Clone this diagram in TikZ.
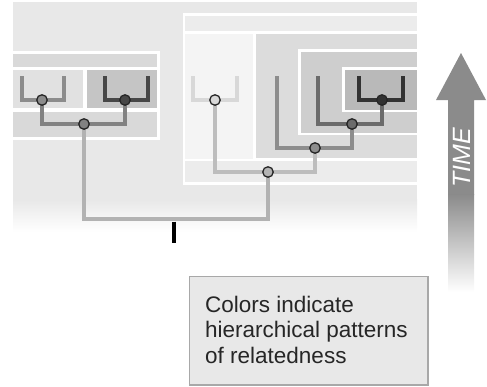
\documentclass[tikz,border=0pt]{standalone}
\usepackage{fontspec}
\newfontfamily\lsans{Liberation Sans}
\definecolor{bg}{HTML}{E8E8E8}
\definecolor{lstrip}{HTML}{D9D9D9}
\definecolor{lboxA}{HTML}{E1E1E1}
\definecolor{lboxB}{HTML}{C5C5C5}
\definecolor{rstrip}{HTML}{ECECEC}
\definecolor{rlight}{HTML}{F4F4F4}
\definecolor{rmid}{HTML}{DCDCDC}
\definecolor{rinner}{HTML}{CECECE}
\definecolor{rinmost}{HTML}{B9B9B9}
\definecolor{cL1}{HTML}{8C8C8C}
\definecolor{cL2}{HTML}{474747}
\definecolor{cL0}{HTML}{828282}
\definecolor{croot}{HTML}{B2B2B2}
\definecolor{cA}{HTML}{D8D8D8}
\definecolor{cAB}{HTML}{BDBDBD}
\definecolor{cC}{HTML}{8D8D8D}
\definecolor{cD}{HTML}{6B6B6B}
\definecolor{cE}{HTML}{323232}
\definecolor{arrowgray}{HTML}{8B8B8B}
\definecolor{legendborder}{HTML}{A8A8A8}
\begin{document}
\begin{tikzpicture}[x=1pt,y=-1pt,
  br/.style={line width=4.8pt,line join=miter,line cap=butt},
  dot/.style={circle,draw=black!85,line width=1.3pt,minimum size=10.5pt,inner sep=0pt},
]
\useasboundingbox (0,0) rectangle (487,386);
% background with bottom fade
\fill[bg] (13,2) rectangle (417,200);
\shade[top color=bg,bottom color=white] (13,199.5) rectangle (417,232);

% left group panels
\fill[white] (13,51) rectangle (160,140);
\fill[lstrip] (13,54) rectangle (157,67);
\fill[lboxA] (13,70) rectangle (83,108);
\fill[lboxB] (87,70) rectangle (157,108);
\fill[lstrip] (13,111.5) rectangle (157,137);

% right group panels
\fill[white] (183,13) rectangle (417,184.5);
\fill[rstrip] (185,16) rectangle (417,31);
\fill[rlight] (185,33.5) rectangle (252.5,159);
\fill[rmid] (256,33.5) rectangle (417,158);
\fill[rstrip] (185,161) rectangle (417,182);
\fill[white] (298,49) rectangle (417,135);
\fill[rinner] (300.5,51.5) rectangle (417,132.5);
\fill[white] (342,67) rectangle (417,112);
\fill[rinmost] (345,69.5) rectangle (417,109.5);

% tree coordinates
\coordinate (l1a) at (22,76);  \coordinate (l1b) at (64,76);  \coordinate (L1) at (42,100);
\coordinate (l2a) at (105,76); \coordinate (l2b) at (148,76); \coordinate (L2) at (125,100);
\coordinate (L0) at (84,124);
\coordinate (a1) at (193,76); \coordinate (a2) at (237,76); \coordinate (A) at (215,100);
\coordinate (B) at (268,172);
\coordinate (C) at (315,148); \coordinate (c1) at (277,76);
\coordinate (D) at (352,124); \coordinate (d1) at (318,76);
\coordinate (E) at (382,100); \coordinate (e1) at (359,76); \coordinate (e2) at (403,76);
\coordinate (root) at (174,219);
\coordinate (rootend) at (174,243);

% branches
\draw[br,croot] (L0) |- (root) -| (B);
\draw[br,black] (root) ++(0,2.5) -- (rootend);
\draw[br,cL1] (l1a) |- (L1) -| (l1b);
\draw[br,cL2] (l2a) |- (L2) -| (l2b);
\draw[br,cL0] (L1) |- (L0) -| (L2);
\draw[br,cA] (a1) |- (A) -| (a2);
\draw[br,cAB] (A) |- (B) -| (C);
\draw[br,cC] (c1) |- (C) -| (D);
\draw[br,cD] (d1) |- (D) -| (E);
\draw[br,cE] (e1) |- (E) -| (e2);

% nodes
\node[dot,fill=cL1] (nL1) at (L1) {};
\node[dot,fill=cL2] (nL2) at (L2) {};
\node[dot,fill=cL0] (nL0) at (L0) {};
\node[dot,fill=cA] (nA) at (A) {};
\node[dot,fill=cAB!95!black] (nB) at (B) {};
\node[dot,fill=cC] (nC) at (C) {};
\node[dot,fill=cD] (nD) at (D) {};
\node[dot,fill=cE] (nE) at (E) {};

% TIME arrow
\coordinate (tip) at (461,53);
\fill[arrowgray] (tip) -- (486,100) -- (474,100) -- (474,195) -- (448,195) -- (448,100) -- (436,100) -- cycle;
\shade[top color=arrowgray,bottom color=white] (448,194.5) rectangle (474,292);
\node[rotate=90,text=white,font=\lsans\itshape\fontsize{25}{25}\selectfont,inner sep=0] (time) at (462,158) {TIME};

% legend
\node[draw=legendborder,fill=bg,line width=1.6pt,minimum width=238.4pt,minimum height=108.4pt,anchor=north west,inner sep=0] (legend) at (188.8,275.8) {};
\node[anchor=base west,align=left,inner sep=0,font=\lsans\fontsize{22.5}{25.5}\selectfont,text=black!85] (legendtext) at (205,363) {Colors indicate\\hierarchical patterns\\of relatedness};
\end{tikzpicture}
\end{document}
